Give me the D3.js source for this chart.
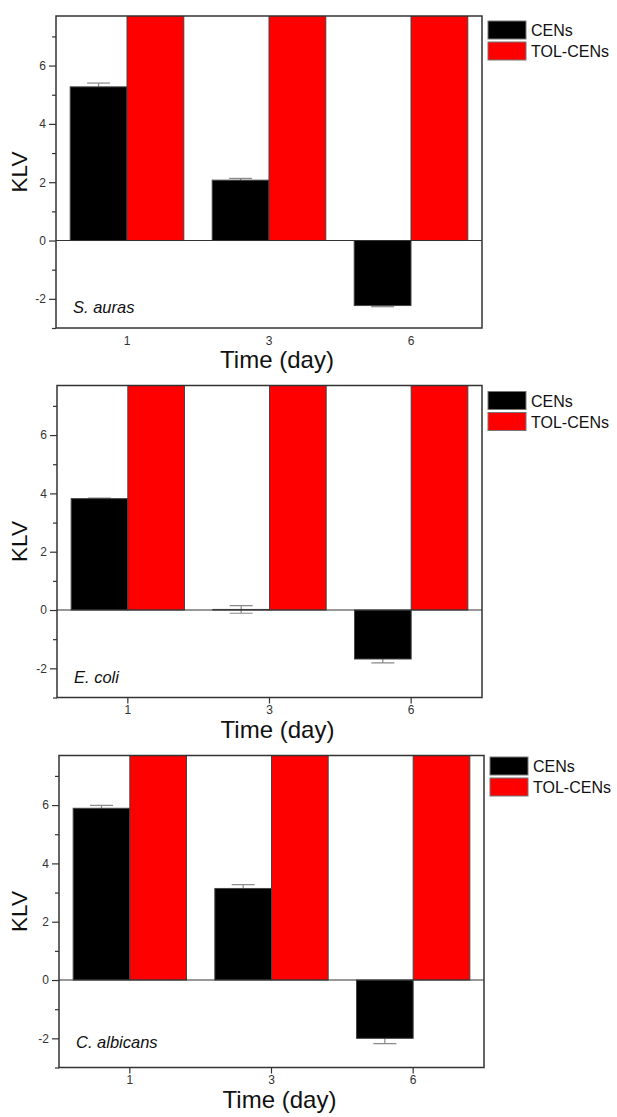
<!DOCTYPE html>
<meta charset="utf-8">
<style>
	body{ margin:0; background:#fff; }
	svg{ font-family: "Liberation Sans", Arial, sans-serif; }
	.frame{ fill:none; stroke:#333; stroke-width:1.5; }
	.zero{ stroke:#333; stroke-width:1.2; }
	.axis path{ display:none; }
	.axis line{ stroke:#333; stroke-width:1.2; }
	.axis text{ font-family: "Liberation Sans", Arial, sans-serif; font-size:12px; fill:#333; }
	.err{ stroke:#888; stroke-width:1.2; }
	.bar{ stroke:#444; stroke-width:1; }
	.legend text{ font-size:16px; fill:#111; }
	.title{ fill:#111; }
</style>
<body>
<svg width="617" height="1117" id="chart"></svg>
<script src="https://cdn.jsdelivr.net/npm/d3@7"></script>
<script>
	// data
	var days = ["1", "3", "6"];
	var series = ["CENs", "TOL-CENs"];
	var organisms = ["S. auras", "E. coli", "C. albicans"];
	var censValues = [[5.27, 2.07, -2.23], [3.82, 0.02, -1.68], [5.89, 3.14, -2.0]];
	var censErrors = [[0.13, 0.06, 0.04], [0.02, 0.13, 0.13], [0.10, 0.13, 0.18]];
	var tolValues = [[8, 8, 8], [8, 8, 8], [8, 8, 8]]; // off the top of the axis
	var yTicks = [-2, 0, 2, 4, 6];
	var yMinorTicks = [-3, -1, 1, 3, 5, 7];
	var yDomain = [-3, 7.7];
	var colors = ["#000000", "#ff0000"];

	// panel placement
	var panels = [
		{top:16,    left:56, right:482, xTick:0, legendDy:5,   nameDy:15},
		{top:385.5, left:57, right:482, xTick:6, legendDy:6,   nameDy:14.5},
		{top:755.5, left:59, right:484, xTick:6, legendDy:1.5, nameDy:19.5}
	];
	var plotH = 312;

	var svg = d3.select("#chart");

	panels.forEach(function(p, k){
		var g = svg.append("g");
		var bottom = p.top + plotH;

		var x = d3.scaleBand().domain(days).range([p.left, p.right])
			.paddingInner(0.2).paddingOuter(0.1);
		var x1 = d3.scaleBand().domain(series).range([0, x.bandwidth()]);
		var y = d3.scaleLinear().domain(yDomain).range([bottom, p.top]);

		g.append("clipPath").attr("id", "clip" + k)
			.append("rect").attr("x", p.left).attr("y", p.top)
			.attr("width", p.right - p.left).attr("height", plotH);

		var rows = days.map(function(d, i){
			return {day:d, vals:[censValues[k][i], tolValues[k][i]], err:censErrors[k][i]};
		});

		var plot = g.append("g").attr("clip-path", "url(#clip" + k + ")");

		// error bars under the bars, so the part inside a bar is hidden
		var cw = 11.5;
		rows.forEach(function(r){
			var cx = x(r.day) + x1("CENs") + x1.bandwidth() / 2;
			var lo = y(r.vals[0] - r.err), hi = y(r.vals[0] + r.err);
			plot.append("line").attr("class", "err").attr("x1", cx).attr("x2", cx).attr("y1", lo).attr("y2", hi);
			plot.append("line").attr("class", "err").attr("x1", cx - cw).attr("x2", cx + cw).attr("y1", lo).attr("y2", lo);
			plot.append("line").attr("class", "err").attr("x1", cx - cw).attr("x2", cx + cw).attr("y1", hi).attr("y2", hi);
		});

		plot.selectAll("g.grp").data(rows).enter().append("g")
			.attr("class", "grp")
			.attr("transform", function(r){ return "translate(" + x(r.day) + ",0)"; })
			.selectAll("rect").data(function(r){ return r.vals.map(function(v, j){ return {s:series[j], v:v, j:j}; }); })
			.enter().append("rect")
			.attr("class", "bar")
			.attr("x", function(d){ return x1(d.s); })
			.attr("width", x1.bandwidth())
			.attr("y", function(d){ return y(Math.max(0, d.v)); })
			.attr("height", function(d){ return Math.abs(y(d.v) - y(0)); })
			.style("fill", function(d){ return colors[d.j]; });

		g.append("line").attr("class", "zero")
			.attr("x1", p.left).attr("x2", p.right).attr("y1", y(0)).attr("y2", y(0));

		g.append("rect").attr("class", "frame")
			.attr("x", p.left).attr("y", p.top)
			.attr("width", p.right - p.left).attr("height", plotH);

		// axes
		g.append("g").attr("class", "axis")
			.attr("transform", "translate(" + p.left + ",0)")
			.call(d3.axisLeft(y).tickValues(yTicks).tickSize(7).tickPadding(3).tickFormat(String));
		g.append("g").attr("class", "axis")
			.attr("transform", "translate(" + p.left + ",0)")
			.call(d3.axisLeft(y).tickValues(yMinorTicks).tickSize(4).tickFormat(""));
		g.append("g").attr("class", "axis")
			.attr("transform", "translate(0," + bottom + ")")
			.call(d3.axisBottom(x).tickSize(p.xTick).tickPadding(p.xTick ? 2 : 8));

		// titles
		g.append("text").attr("class", "title")
			.attr("transform", "translate(19," + (p.top + plotH / 2) + ") rotate(-90)")
			.attr("text-anchor", "middle").attr("dy", "0.36em")
			.style("font-size", "22.5px").text("KLV");
		g.append("text").attr("class", "title")
			.attr("x", (p.left + p.right) / 2 + 8).attr("y", bottom + 40)
			.attr("text-anchor", "middle")
			.style("font-size", "24px").text("Time (day)");
		g.append("text").attr("class", "title")
			.attr("x", p.left + 17).attr("y", bottom - p.nameDy)
			.style("font-size", "16.5px").style("font-style", "italic")
			.text(organisms[k]);

		// legend
		var lg = g.append("g").attr("class", "legend")
			.attr("transform", "translate(" + (p.right + 6) + "," + (p.top + p.legendDy) + ")");
		var item = lg.selectAll("g").data(series).enter().append("g")
			.attr("transform", function(d, i){ return "translate(0," + (i * 21) + ")"; });
		item.append("rect").attr("width", 38).attr("height", 18)
			.style("fill", function(d, i){ return colors[i]; })
			.style("stroke", "#777").style("stroke-width", 1);
		item.append("text").attr("x", 43).attr("y", 15).text(function(d){ return d; });
	});
</script>
</body>
